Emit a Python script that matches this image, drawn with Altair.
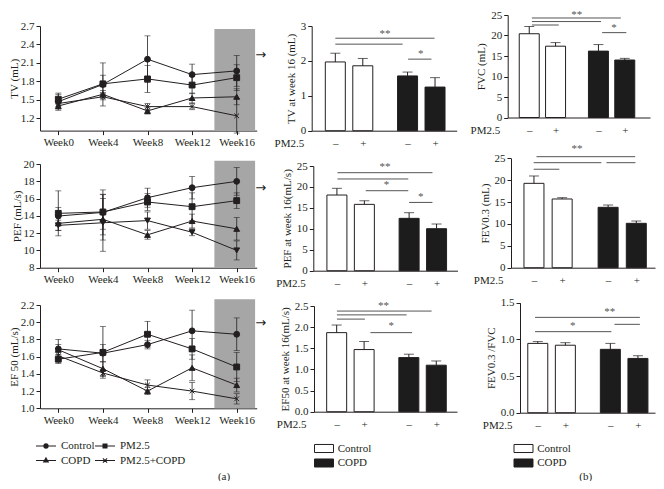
import altair as alt
import pandas as pd

# ---------------- data ----------------
WEEKS = [0, 4, 8, 12, 16]
SERIES = ["Control", "PM2.5", "COPD", "PM2.5+COPD"]

TV_CONTROL = [1.47, 1.75, 2.16, 1.91, 1.97]
TV_PM25 = [1.51, 1.76, 1.84, 1.74, 1.86]
TV_COPD = [1.40, 1.59, 1.32, 1.53, 1.55]
TV_PM25_COPD = [1.44, 1.55, 1.39, 1.39, 1.24]
TV_CONTROL_ERR = [0.14, 0.35, 0.38, 0.17, 0.25]
TV_PM25_ERR = [0.08, 0.14, 0.22, 0.14, 0.21]
TV_COPD_ERR = [0.05, 0.06, 0.05, 0.08, 0.13]
TV_PM25_COPD_ERR = [0.05, 0.05, 0.05, 0.05, 0.28]

PEF_CONTROL = [13.98, 14.40, 16.10, 17.26, 17.99]
PEF_PM25 = [14.29, 14.45, 15.60, 15.06, 15.76]
PEF_COPD = [13.13, 13.60, 11.80, 13.40, 12.50]
PEF_PM25_COPD = [12.90, 13.20, 13.45, 12.10, 10.00]
PEF_CONTROL_ERR = [1.0, 2.6, 1.1, 1.3, 1.6]
PEF_PM25_ERR = [2.6, 2.0, 1.0, 1.6, 0.9]
PEF_COPD_ERR = [0.8, 2.4, 0.5, 0.8, 1.3]
PEF_PM25_COPD_ERR = [0.6, 3.3, 1.0, 0.4, 1.1]

EF_CONTROL = [1.69, 1.64, 1.74, 1.90, 1.86]
EF_PM25 = [1.57, 1.65, 1.86, 1.69, 1.48]
EF_COPD = [1.68, 1.46, 1.20, 1.47, 1.27]
EF_PM25_COPD = [1.61, 1.41, 1.27, 1.20, 1.11]
EF_CONTROL_ERR = [0.11, 0.10, 0.05, 0.24, 0.19]
EF_PM25_ERR = [0.05, 0.30, 0.15, 0.12, 0.17]
EF_COPD_ERR = [0.06, 0.08, 0.04, 0.15, 0.08]
EF_PM25_COPD_ERR = [0.05, 0.04, 0.06, 0.10, 0.06]

GROUPS = ["Control", "Control", "COPD", "COPD"]
PM25_SIGNS = ["–", "+", "–", "+"]
BAR_SLOTS = [1.0, 2.0, 3.63, 4.63]

TV16 = [1.97, 1.86, 1.57, 1.25]
TV16_ERR = [0.25, 0.21, 0.11, 0.27]
PEF16 = [18.07, 15.84, 12.50, 10.03]
PEF16_ERR = [1.60, 0.86, 1.35, 1.12]
EF16 = [1.87, 1.47, 1.28, 1.10]
EF16_ERR = [0.18, 0.19, 0.08, 0.10]
FVC = [20.43, 17.39, 16.19, 14.02]
FVC_ERR = [1.77, 0.88, 1.60, 0.40]
FEV03 = [19.28, 15.70, 13.80, 10.14]
FEV03_ERR = [1.68, 0.30, 0.53, 0.53]
RATIO = [0.945, 0.920, 0.864, 0.740]
RATIO_ERR = [0.025, 0.035, 0.081, 0.037]

# significance brackets: (from slot, to slot, level) and stars: (slot, level, label)
TV16_SIG = [(1.0, 4.61, 2.65), (1.0, 3.45, 2.48), (3.65, 4.50, 2.05)]
TV16_STARS = [(2.81, 2.82, "**"), (4.11, 2.26, "*")]
PEF16_SIG = [(1.02, 4.48, 23.4), (1.02, 3.60, 21.9), (2.05, 3.60, 19.1), (3.63, 4.48, 16.3)]
PEF16_STARS = [(2.75, 25.2, "**"), (2.81, 20.86, "*"), (4.05, 18.07, "*")]
EF16_SIG = [(1.01, 4.46, 2.38), (1.01, 3.55, 2.29), (1.01, 2.03, 2.19), (2.23, 3.75, 1.87)]
EF16_STARS = [(2.71, 2.55, "**"), (2.99, 2.07, "*")]
FVC_SIG = [(1.10, 4.48, 24.27), (1.10, 3.73, 23.4), (1.10, 2.12, 22.56), (3.77, 4.69, 20.7)]
FVC_STARS = [(2.81, 25.37, "**"), (4.22, 22.4, "*")]
FEV03_SIG = [(1.09, 4.59, 25.37), (0.99, 3.39, 24.0), (3.57, 4.60, 24.0), (0.99, 1.90, 22.5)]
FEV03_STARS = [(2.53, 27.66, "**")]
RATIO_SIG = [(0.90, 4.70, 1.30), (0.90, 3.67, 1.105), (3.78, 4.70, 1.205)]
RATIO_STARS = [(3.61, 1.40, "**"), (2.27, 1.205, "*")]

PANEL_LABELS = ["(a)", "(b)"]

# ---------------- style / layout ----------------
M = 8
W, H = 648, 473          # fits the 664x489 window inside the 8px page margin
FONT = "Liberation Serif"
INK = "#231f20"
SIG = "#555555"
SHADE = "#a6a6a6"
DARK = "#1c1c1c"
BAR_W = 20

LINE_AXIS_LEFT = 40.0     # page x of the y axis of the left column
LINE_AXIS_RIGHT = 256.7
WEEK_PX = 11.15           # pixels per week
WEEK0_PX = 58.3           # page x of week 0
X_WEEK_DOMAIN = [(LINE_AXIS_LEFT - WEEK0_PX) / WEEK_PX, (LINE_AXIS_RIGHT - WEEK0_PX) / WEEK_PX]
SHADE_WEEKS = [14.0, 17.65]
ARROW_WEEK = 18.15

CIRCLE = "circle"
SQUARE = "square"
TRI_UP = "triangle-up"
TRI_DOWN = "triangle-down"
XMARK = "M-0.8,-0.8L0.8,0.8M-0.8,0.8L0.8,-0.8"

# legend glyphs: a line with a marker (marker drawn as nested outlines so it reads as solid)
LEG_PATHS = [
    "M-1.43,0L1.43,0"
    "M-0.3,0A0.3,0.3,0,1,0,0.3,0A0.3,0.3,0,1,0,-0.3,0Z"
    "M-0.18,0A0.18,0.18,0,1,0,0.18,0A0.18,0.18,0,1,0,-0.18,0Z"
    "M-0.07,0A0.07,0.07,0,1,0,0.07,0A0.07,0.07,0,1,0,-0.07,0Z",
    "M-1.43,0L1.43,0"
    "M-0.28,-0.28L0.28,-0.28L0.28,0.28L-0.28,0.28Z"
    "M-0.16,-0.16L0.16,-0.16L0.16,0.16L-0.16,0.16Z"
    "M-0.05,-0.05L0.05,-0.05L0.05,0.05L-0.05,0.05Z",
    "M-1.43,0L1.43,0"
    "M0,-0.36L0.33,0.22L-0.33,0.22Z"
    "M0,-0.2L0.18,0.13L-0.18,0.13Z",
    "M-1.43,0L1.43,0M-0.3,-0.3L0.3,0.3M-0.3,0.3L0.3,-0.3",
]
BOX_PATH = "M-1.46,-0.62L1.46,-0.62L1.46,0.62L-1.46,0.62Z"


def px(v):
    return v - M


def axis(**kw):
    base = dict(grid=False, domainColor=INK, tickColor=INK, labelColor=INK, titleColor=INK,
                labelFont=FONT, titleFont=FONT, labelFontSize=11, titleFontSize=11,
                titleFontWeight="normal", domainWidth=1, tickWidth=1,
                labelFlush=False, labelOverlap=False)
    base.update(kw)
    return alt.Axis(**base)


def line_panel(means, errs, shapes, ydom, yticks, yfmt, ytitle, ypx, shade_top, arrow_y):
    rows = []
    for s, m, e in zip(SERIES, means, errs):
        for w, v, d in zip(WEEKS, m, e):
            rows.append({"series": s, "week": w, "value": v, "lo": v - d, "hi": v + d})
    df = pd.DataFrame(rows)
    xr = [px(LINE_AXIS_LEFT), px(LINE_AXIS_RIGHT)]
    xs = alt.Scale(domain=X_WEEK_DOMAIN, range=xr, nice=False, zero=False)
    ys = alt.Scale(domain=ydom, range=[px(ypx[0]), px(ypx[1])], nice=False, zero=False)
    xax = axis(orient="bottom", offset=px(ypx[0]) - H, values=WEEKS, title=None,
               labelExpr="'Week' + datum.value", tickSize=4, labelPadding=2)
    yax = axis(orient="left", offset=-xr[0], values=yticks, format=yfmt, title=ytitle,
               tickSize=4, labelPadding=2, titlePadding=1)

    def X(f):
        return alt.X(f, type="quantitative", scale=xs, axis=xax)

    def Y(f):
        return alt.Y(f, type="quantitative", scale=ys, axis=yax)

    shade_df = pd.DataFrame({"x0": [SHADE_WEEKS[0]], "x1": [SHADE_WEEKS[1]],
                             "y0": [ydom[0]], "y1": [shade_top]})
    shade = alt.Chart(shade_df).mark_rect(color=SHADE).encode(
        x=X("x0"), x2="x1:Q", y=Y("y0"), y2="y1:Q")
    line = alt.Chart(df).mark_line(color=INK, strokeWidth=1).encode(
        x=X("week"), y=Y("value"), detail="series:N", order="week:Q")
    err = alt.Chart(df).mark_rule(color=INK, strokeWidth=0.8).encode(
        x=X("week"), y=Y("lo"), y2="hi:Q")
    cap_hi = alt.Chart(df).mark_tick(orient="horizontal", size=6, thickness=0.8, color=INK).encode(
        x=X("week"), y=Y("hi"))
    cap_lo = alt.Chart(df).mark_tick(orient="horizontal", size=6, thickness=0.8, color=INK).encode(
        x=X("week"), y=Y("lo"))
    pts = alt.Chart(df).mark_point(filled=True, size=34, fill=INK, stroke=INK, strokeWidth=1,
                                   opacity=1).encode(
        x=X("week"), y=Y("value"),
        shape=alt.Shape("series:N", scale=alt.Scale(domain=SERIES, range=shapes), legend=None))
    arrow = alt.Chart(pd.DataFrame({"x": [ARROW_WEEK], "y": [arrow_y]})).mark_text(
        text="→", font="DejaVu Sans", fontSize=13, color=INK).encode(x=X("x"), y=Y("y"))
    return alt.layer(shade, line, err, cap_hi, cap_lo, pts, arrow)


def sign_expr():
    expr = "''"
    for s, sign in reversed(list(zip(BAR_SLOTS, PM25_SIGNS))):
        expr = f"abs(datum.value - {s}) < 0.01 ? '{sign}' : ({expr})"
    return expr


def bar_panel(vals, errs, ymax, yticks, yfmt, ytitle, xpx, c1, unit, ypx, sig, stars):
    L, R = xpx
    xs = alt.Scale(domain=[1 - (c1 - L) / unit, 1 + (R - c1) / unit],
                   range=[px(L), px(R)], nice=False, zero=False)
    ys = alt.Scale(domain=[0, ymax], range=[px(ypx[0]), px(ypx[1])], nice=False, zero=False)
    df = pd.DataFrame({"slot": BAR_SLOTS, "group": GROUPS, "value": vals,
                       "top": [v + e for v, e in zip(vals, errs)]})
    xax = axis(orient="bottom", offset=px(ypx[0]) - H, values=BAR_SLOTS, labelExpr=sign_expr(),
               title="PM2.5", titleX=px(L) - 8, titleY=13, titleAlign="right",
               titleBaseline="middle", tickSize=0, labelPadding=13, labelBaseline="middle")
    yax = axis(orient="left", offset=-px(L), values=yticks, format=yfmt, title=ytitle,
               tickSize=4, labelPadding=2, titlePadding=4)

    def X(f):
        return alt.X(f, type="quantitative", scale=xs, axis=xax)

    def Y(f):
        return alt.Y(f, type="quantitative", scale=ys, axis=yax)

    fill_scale = alt.Scale(domain=["Control", "COPD"], range=["white", DARK])
    bars = alt.Chart(df).mark_bar(width=BAR_W, stroke=INK, strokeWidth=1, orient="vertical",
                                  opacity=1).encode(
        x=X("slot"), y=Y("value"), y2=alt.datum(0),
        fill=alt.Fill("group:N", scale=fill_scale, legend=None))
    err = alt.Chart(df).mark_rule(color=INK, strokeWidth=1).encode(
        x=X("slot"), y=Y("value"), y2="top:Q")
    cap = alt.Chart(df).mark_tick(orient="horizontal", size=10, thickness=1, color=INK).encode(
        x=X("slot"), y=Y("top"))
    sig_df = pd.DataFrame(sig, columns=["x0", "x1", "y"])
    rules = alt.Chart(sig_df).mark_rule(color=SIG, strokeWidth=1).encode(
        x=X("x0"), x2="x1:Q", y=Y("y"))
    star_df = pd.DataFrame(stars, columns=["x", "y", "t"])
    star_txt = alt.Chart(star_df).mark_text(font=FONT, fontSize=11, color=SIG,
                                            baseline="alphabetic", dy=5).encode(
        x=X("x"), y=Y("y"), text="t:N")
    return alt.layer(bars, err, cap, rules, star_txt)


tv_line = line_panel([TV_CONTROL, TV_PM25, TV_COPD, TV_PM25_COPD],
                     [TV_CONTROL_ERR, TV_PM25_ERR, TV_COPD_ERR, TV_PM25_COPD_ERR],
                     [CIRCLE, SQUARE, TRI_UP, XMARK], [1.0, 2.7],
                     [1.2, 1.5, 1.8, 2.1, 2.4, 2.7], ".1f", "TV (mL)", (130.6, 26.0), 2.65, 2.23)
pef_line = line_panel([PEF_CONTROL, PEF_PM25, PEF_COPD, PEF_PM25_COPD],
                      [PEF_CONTROL_ERR, PEF_PM25_ERR, PEF_COPD_ERR, PEF_PM25_COPD_ERR],
                      [CIRCLE, SQUARE, TRI_UP, TRI_DOWN], [8, 20],
                      [8, 10, 12, 14, 16, 18, 20], "d", "PEF (mL/s)", (267.7, 164.0), 20.38, 17.26)
ef_line = line_panel([EF_CONTROL, EF_PM25, EF_COPD, EF_PM25_COPD],
                     [EF_CONTROL_ERR, EF_PM25_ERR, EF_COPD_ERR, EF_PM25_COPD_ERR],
                     [CIRCLE, SQUARE, TRI_UP, XMARK], [1.0, 2.2],
                     [1.0, 1.2, 1.4, 1.6, 1.8, 2.0, 2.2], ".1f", "EF 50 (mL/s)", (408.3, 305.0),
                     2.266, 1.99)

tv_bar = bar_panel(TV16, TV16_ERR, 3, [0, 1, 2, 3], "d", "TV at week 16 (mL)",
                   (311.7, 456.7), 331.7, 29.5, (130.7, 26.0), TV16_SIG, TV16_STARS)
pef_bar = bar_panel(PEF16, PEF16_ERR, 25, [0, 5, 10, 15, 20, 25], "d", "PEF at week 16(mL/s)",
                    (313.3, 457.5), 333.3, 29.5, (270.7, 166.0), PEF16_SIG, PEF16_STARS)
ef_bar = bar_panel(EF16, EF16_ERR, 2.5, [0, 0.5, 1.0, 1.5, 2.0, 2.5], ".1f", "EF50 at week 16(mL/s)",
                   (314.0, 457.0), 333.0, 29.5, (411.7, 306.0), EF16_SIG, EF16_STARS)
fvc_bar = bar_panel(FVC, FVC_ERR, 25, [0, 5, 10, 15, 20, 25], "d", "FVC (mL)",
                    (507.7, 650.0), 525.5, 28.3, (117.5, 15.0), FVC_SIG, FVC_STARS)
fev_bar = bar_panel(FEV03, FEV03_ERR, 25, [0, 5, 10, 15, 20, 25], "d", "FEV0.3 (mL)",
                    (511.0, 655.0), 530.3, 30.3, (267.7, 158.3), FEV03_SIG, FEV03_STARS)
ratio_bar = bar_panel(RATIO, RATIO_ERR, 1.5, [0, 0.5, 1.0, 1.5], ".1f", "FEV0.3 /FVC",
                      (520.0, 655.0), 533.8, 29.8, (412.7, 302.7), RATIO_SIG, RATIO_STARS)

line_legend = alt.Chart(pd.DataFrame({"series": SERIES})).transform_filter("false").mark_point(
    filled=False, color=INK, strokeWidth=1.1, opacity=1).encode(
    shape=alt.Shape("series:N", scale=alt.Scale(domain=SERIES, range=LEG_PATHS),
                    legend=alt.Legend(orient="none", legendX=30, legendY=430, columns=2,
                                      direction="horizontal", title=None,
                                      symbolSize=196, symbolStrokeColor=INK,
                                      symbolStrokeWidth=1.1, symbolOpacity=1, labelOffset=7,
                                      columnPadding=-3, rowPadding=1.5, labelFont=FONT,
                                      labelFontSize=11, labelColor=INK, padding=0)))


def bar_legend(x):
    return alt.Chart(pd.DataFrame({"group": ["Control", "COPD"]})).transform_filter("false").mark_square(
        stroke=INK, strokeWidth=1, opacity=1).encode(
        fill=alt.Fill("group:N", scale=alt.Scale(domain=["Control", "COPD"], range=["white", DARK]),
                      legend=alt.Legend(orient="none", legendX=x, legendY=433.5, title=None,
                                        direction="vertical", symbolType=BOX_PATH, symbolSize=169,
                                        symbolStrokeColor=INK, symbolStrokeWidth=1, symbolOpacity=1,
                                        labelOffset=6.7, rowPadding=0.5, labelFont=FONT,
                                        labelFontSize=11, labelColor=INK, padding=0)))


# panel labels "(a)" (under the left column) and "(b)" (under the right column) on one line
GAP = "\u00a0" * 127
panel_caption = PANEL_LABELS[0] + GAP + PANEL_LABELS[1]

chart = alt.layer(
    tv_line, pef_line, ef_line, tv_bar, pef_bar, ef_bar, fvc_bar, fev_bar, ratio_bar,
    line_legend, bar_legend(309), bar_legend(508.5)
).resolve_scale(
    x="independent", y="independent", shape="independent", fill="independent"
).properties(
    width=W, height=H, padding=0, autosize=alt.AutoSizeParams(type="none"),
    title=alt.Title(panel_caption, orient="bottom", anchor="start", frame="group", align="left",
                    dx=px(217.9), offset=-4.5, font=FONT, fontSize=11, fontWeight="normal",
                    color=INK, baseline="middle")
).configure_view(stroke=None)

chart.save("out.html", embed_options={"renderer": "svg", "actions": False})
